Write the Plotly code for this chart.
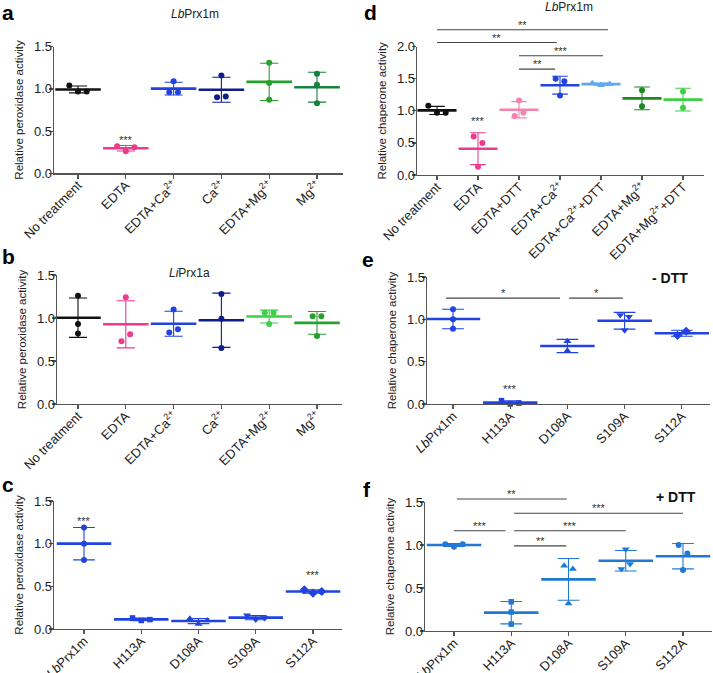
import numpy as np
import plotly.graph_objects as go

W, H = 713, 673
FONT = "Liberation Sans, Arial, sans-serif"

# ---------------- data ----------------
treat_cats = ["No treatment", "EDTA", "EDTA+Ca<sup>2+</sup>", "Ca<sup>2+</sup>",
              "EDTA+Mg<sup>2+</sup>", "Mg<sup>2+</sup>"]
mutant_cats = ["<i>Lb</i>Prx1m", "H113A", "D108A", "S109A", "S112A"]
chap_cats = ["No treatment", "EDTA", "EDTA+DTT", "EDTA+Ca<sup>2+</sup>",
             "EDTA+Ca<sup>2+</sup>+DTT", "EDTA+Mg<sup>2+</sup>", "EDTA+Mg<sup>2+</sup>+DTT"]

# a: LbPrx1m peroxidase activity
a_values = [[1.04, 0.97, 0.97], [0.32, 0.26, 0.31], [1.09, 0.96, 0.96],
            [1.16, 0.90, 0.91], [1.31, 1.07, 0.87], [1.18, 1.05, 0.83]]
# b: LiPrx1a peroxidase activity
b_values = [[1.26, 0.93, 0.82], [1.24, 0.73, 0.81], [1.10, 0.83, 0.87],
            [1.28, 0.99, 0.65], [1.06, 0.93, 1.06], [1.02, 0.79, 1.02]]
# c: mutants peroxidase activity
c_values = [[1.19, 1.00, 0.81], [0.13, 0.10, 0.11], [0.12, 0.06, 0.10],
            [0.16, 0.11, 0.13], [0.46, 0.42, 0.44]]
# d: LbPrx1m chaperone activity
d_values = [[1.08, 0.97, 0.97], [0.60, 0.13, 0.50], [0.92, 1.16, 0.97],
            [1.50, 1.24, 1.46], [1.43, 1.40, 1.42], [1.32, 1.07], [1.30, 1.05]]
# e: mutants chaperone activity, - DTT
e_values = [[1.12, 1.00, 0.89], [0.04, 0.00, 0.01], [0.74, 0.63],
            [1.05, 0.87, 1.03], [0.81, 0.86]]
# f: mutants chaperone activity, + DTT
f_values = [[1.01, 0.98, 1.01], [0.34, 0.22, 0.08], [0.76, 0.32, 0.72],
            [0.72, 0.95, 0.78], [1.00, 0.71, 0.90]]

# significance marks: (group, label)
a_marks = [(1, "***")]
c_marks = [(0, "***"), (4, "***")]
d_marks = [(1, "***")]
e_marks = [(1, "***")]
# comparison brackets: (from, to, label)
d_brackets = [(0, 4, "**"), (0, 3, "**"), (2, 4, "***"), (2, 3, "**")]
e_brackets = [(0, 2, "*"), (2, 3, "*")]
f_brackets = [(0, 2, "**"), (1, 4, "***"), (0, 1, "***"), (1, 3, "***"), (1, 2, "**")]

# ---------------- styles / geometry ----------------
BLACK = "#111111"; PINK = "#ec3b8e"; LPINK = "#f384ae"; BLUE = "#2143e0"
NAVY = "#0f1d8c"; GREEN = "#27a02e"; DGREEN = "#16803e"; LGREEN = "#3dd046"
LBLUE = "#5ea9f2"; FBLUE = "#2079d6"; DG2 = "#1c8a22"
AXC = "#555555"; TXT = "#222222"

# pixel geometry: x-left, x-right, first category px, px per category, y-top px, y-bottom px
panels = {
    "a": dict(geo=(54, 343, 78, 47.8, 46.7, 173.3), ymax=1.5, cats=treat_cats, vals=a_values,
              colors=[BLACK, PINK, BLUE, NAVY, GREEN, DGREEN], syms=["circle"] * 6,
              ytitle="Relative peroxidase activity"),
    "b": dict(geo=(57, 342, 78, 47.8, 275, 404), ymax=1.5, cats=treat_cats, vals=b_values,
              colors=[BLACK, PINK, BLUE, NAVY, LGREEN, GREEN], syms=["circle"] * 6,
              ytitle="Relative peroxidase activity"),
    "c": dict(geo=(54, 342, 84, 57.25, 501, 629), ymax=1.5, cats=mutant_cats, vals=c_values,
              colors=[BLUE] * 5, syms=["circle", "square", "triangle-up", "triangle-down", "diamond"],
              ytitle="Relative peroxidase activity"),
    "d": dict(geo=(417, 704, 437, 41, 46.7, 175), ymax=2.0, cats=chap_cats, vals=d_values,
              colors=[BLACK, PINK, LPINK, BLUE, LBLUE, DG2, LGREEN],
              syms=["circle", "circle", "circle", "circle", "triangle-up", "circle", "circle"],
              ytitle="Relative chaperone activity"),
    "e": dict(geo=(427, 710, 453, 57.2, 277, 404), ymax=1.5, cats=mutant_cats, vals=e_values,
              colors=[BLUE] * 5, syms=["circle", "square", "triangle-up", "triangle-down", "diamond"],
              ytitle="Relative chaperone activity"),
    "f": dict(geo=(425, 712, 454, 57.25, 502, 631), ymax=1.5, cats=mutant_cats, vals=f_values,
              colors=[FBLUE] * 5, syms=["circle", "square", "triangle-up", "triangle-down", "circle"],
              ytitle="Relative chaperone activity"),
}
order = ["a", "b", "c", "d", "e", "f"]

fig = go.Figure()
layout = dict(width=W, height=H, margin=dict(l=0, r=0, t=0, b=0, pad=0, autoexpand=False),
              paper_bgcolor="white", plot_bgcolor="white", showlegend=False,
              font=dict(family=FONT, color=TXT))
annotations = []
shapes = []


def swarm(vals, px_unit, px_cat, thr=9.0, spacing=8.7):
    n = len(vals)
    idx = sorted(range(n), key=lambda k: vals[k])
    clusters, cur = [], [idx[0]]
    for k in idx[1:]:
        if (vals[k] - vals[cur[-1]]) * px_unit < thr:
            cur.append(k)
        else:
            clusters.append(cur)
            cur = [k]
    clusters.append(cur)
    off = [0.0] * n
    for cl in clusters:
        cl = sorted(cl)
        m = len(cl)
        for r, k in enumerate(cl):
            off[k] = (r - (m - 1) / 2) * spacing / px_cat
    return off


def ypaper(p, v):
    xl, xr, c0, sp, yt, yb = panels[p]["geo"]
    py = yb - v / panels[p]["ymax"] * (yb - yt)
    return 1 - py / H


for n, p in enumerate(order, start=1):
    P = panels[p]
    xl, xr, c0, sp, yt, yb = P["geo"]
    sfx = "" if n == 1 else str(n)
    P["xa"] = "x" + sfx
    P["ya"] = "y" + sfx
    px_unit = (yb - yt) / P["ymax"]
    layout["xaxis" + sfx] = dict(
        domain=[xl / W, xr / W], range=[(xl - c0) / sp, (xr - c0) / sp], anchor="y" + sfx,
        tickmode="array", tickvals=list(range(len(P["cats"]))), ticktext=P["cats"],
        tickangle=-45, showline=True, linecolor=AXC, linewidth=1.3, ticks="outside",
        ticklen=4, tickwidth=1.2, tickcolor=AXC, showgrid=False, zeroline=False,
        ticklabelstandoff=-6,
        tickfont=dict(size=13, color=TXT, family=FONT), fixedrange=True, automargin=False)
    layout["yaxis" + sfx] = dict(
        domain=[1 - yb / H, 1 - yt / H], range=[0, P["ymax"]], anchor="x" + sfx,
        tickmode="linear", tick0=0, dtick=0.5, tickformat=".1f", showline=True,
        linecolor=AXC, linewidth=1.3, ticks="outside", ticklen=4, tickwidth=1.2,
        tickcolor=AXC, showgrid=False, zeroline=False, ticklabelstandoff=-6,
        tickfont=dict(size=13, color=TXT, family=FONT),
        title=dict(text=P["ytitle"], font=dict(size=11.5, color=TXT, family=FONT),
                   standoff=8),
        fixedrange=True, automargin=False)
    for i, vals in enumerate(P["vals"]):
        col = P["colors"][i]
        arr = np.array(vals, dtype=float)
        mean = arr.mean()
        sd = arr.std(ddof=1)
        fig.add_trace(go.Scatter(
            x=[i], y=[mean], mode="markers", xaxis=P["xa"], yaxis=P["ya"],
            marker=dict(symbol="line-ew", size=0.68 * sp, color=col,
                        line=dict(width=2.6, color=col)),
            error_y=dict(type="data", array=[sd], visible=True, color=col,
                         thickness=1.1, width=0.19 * sp),
            cliponaxis=False, hoverinfo="skip", opacity=1))
        off = swarm(vals, px_unit, sp)
        sym = P["syms"][i]
        size = {"circle": 6, "square": 5.5, "triangle-up": 7, "triangle-down": 7,
                "diamond": 7}[sym]
        fig.add_trace(go.Scatter(
            x=[i + o for o in off], y=vals, mode="markers", xaxis=P["xa"], yaxis=P["ya"],
            marker=dict(symbol=sym, size=size, color=col, line=dict(width=0)),
            cliponaxis=False, hoverinfo="skip"))


def star(p, g, v, label):
    annotations.append(dict(x=g, y=ypaper(p, v), xref=panels[p]["xa"], yref="paper",
                            text=label, showarrow=False, xanchor="center", yanchor="middle",
                            yshift=-3, font=dict(size=11, color="#333333", family=FONT)))


star("a", a_marks[0][0], 0.43, a_marks[0][1])
star("c", c_marks[0][0], 1.30, c_marks[0][1])
star("c", c_marks[1][0], 0.67, c_marks[1][1])
star("d", d_marks[0][0], 0.89, d_marks[0][1])
star("e", e_marks[0][0], 0.21, e_marks[0][1])


def bracket(p, br, level, x0adj=0.0, x1adj=0.0):
    i, j, lab = br
    yp = ypaper(p, level)
    shapes.append(dict(type="line", xref=panels[p]["xa"], yref="paper",
                       x0=i + x0adj, x1=j + x1adj, y0=yp, y1=yp,
                       line=dict(color="#444444", width=1.1)))
    annotations.append(dict(x=(i + x0adj + j + x1adj) / 2, y=yp, xref=panels[p]["xa"],
                            yref="paper", text=lab, showarrow=False, xanchor="center",
                            yanchor="middle", yshift=5,
                            font=dict(size=11, color="#333333", family=FONT)))


# bracket levels (data units) and end adjustments
bracket("d", d_brackets[0], 2.265, 0, 0.17)
bracket("d", d_brackets[1], 2.065, 0, -0.08)
bracket("d", d_brackets[2], 1.86, 0, 0.05)
bracket("d", d_brackets[3], 1.65, 0, -0.12)
bracket("e", e_brackets[0], 1.25, -0.12, -0.13)
bracket("e", e_brackets[1], 1.25, 0.03, -0.03)
bracket("f", f_brackets[0], 1.535, 0.05, -0.03)
bracket("f", f_brackets[1], 1.37, 0.05, 0)
bracket("f", f_brackets[2], 1.165, 0, -0.1)
bracket("f", f_brackets[3], 1.165, 0.05, 0)
bracket("f", f_brackets[4], 0.99, 0.05, -0.04)

# DTT condition labels
annotations.append(dict(x=3.8, y=ypaper("e", 1.49), xref=panels["e"]["xa"], yref="paper",
                        text="<b>- DTT</b>", showarrow=False, xanchor="center", yanchor="middle",
                        font=dict(size=14, color="#111111", family=FONT)))
annotations.append(dict(x=3.88, y=ypaper("f", 1.56), xref=panels["f"]["xa"], yref="paper",
                        text="<b>+ DTT</b>", showarrow=False, xanchor="center", yanchor="middle",
                        font=dict(size=14, color="#111111", family=FONT)))

# panel titles
annotations.append(dict(x=195 / W, y=1 - 14 / H, xref="paper", yref="paper",
                        text="<i>Lb</i>Prx1m", showarrow=False, xanchor="center", yanchor="middle",
                        font=dict(size=12, color=TXT, family=FONT)))
annotations.append(dict(x=569 / W, y=1 - 7 / H, xref="paper", yref="paper",
                        text="<i>Lb</i>Prx1m", showarrow=False, xanchor="center", yanchor="middle",
                        font=dict(size=12, color=TXT, family=FONT)))
annotations.append(dict(x=189 / W, y=1 - 273 / H, xref="paper", yref="paper",
                        text="<i>Li</i>Prx1a", showarrow=False, xanchor="center", yanchor="middle",
                        font=dict(size=12, color=TXT, family=FONT)))

# panel letters
for lab, xpx, ypx in [("a", 0, 12), ("b", 0, 256), ("c", 0, 484),
                      ("d", 362, 12), ("e", 360, 259), ("f", 361, 489)]:
    annotations.append(dict(x=xpx / W, y=1 - ypx / H, xref="paper", yref="paper",
                            text="<b>%s</b>" % lab, showarrow=False, xanchor="left",
                            yanchor="middle",
                            font=dict(size=21, color="#000000", family=FONT)))

layout["annotations"] = annotations
layout["shapes"] = shapes
fig.update_layout(**layout)
fig.write_html("out.html", config={"displayModeBar": False, "staticPlot": True},
               post_script="document.body.style.margin='0';document.body.style.overflow='hidden';")
